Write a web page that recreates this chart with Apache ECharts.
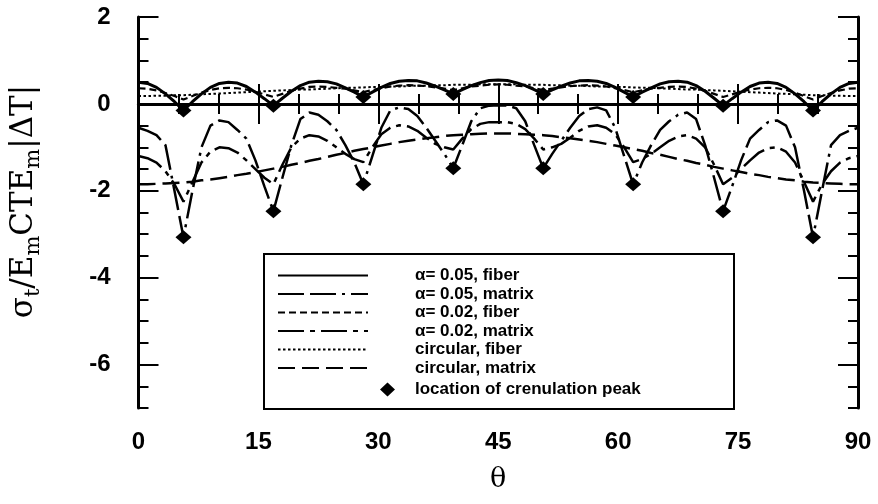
<!DOCTYPE html>
<html><head><meta charset="utf-8">
<script src="https://cdn.jsdelivr.net/npm/echarts@6/dist/echarts.min.js"></script>
<style>html,body{margin:0;padding:0;background:#fff}#c{width:878px;height:504px}</style>
</head><body><div id="c"></div>
<script>
// theta (degrees)
const theta = [0,1.125,2.25,3.375,4.5,5.625,6.75,7.875,9,10.125,
 11.25,12.375,13.5,14.625,15.75,16.875,18,19.125,20.25,21.375,
 22.5,23.625,24.75,25.875,27,28.125,29.25,30.375,31.5,32.625,
 33.75,34.875,36,37.125,38.25,39.375,40.5,41.625,42.75,43.875,
 45,46.125,47.25,48.375,49.5,50.625,51.75,52.875,54,55.125,
 56.25,57.375,58.5,59.625,60.75,61.875,63,64.125,65.25,66.375,
 67.5,68.625,69.75,70.875,72,73.125,74.25,75.375,76.5,77.625,
 78.75,79.875,81,82.125,83.25,84.375,85.5,86.625,87.75,88.875,90];
// alpha = 0.05, fiber
const fiber05 = [0.50,0.47,0.38,0.23,0.05,-0.15,0.05,0.23,0.38,0.47,
 0.50,0.48,0.40,0.27,0.12,-0.04,0.13,0.29,0.42,0.50,
 0.52,0.51,0.46,0.37,0.27,0.16,0.27,0.38,0.47,0.52,
 0.54,0.53,0.48,0.41,0.32,0.23,0.33,0.42,0.49,0.54,
 0.55,0.54,0.49,0.42,0.33,0.23,0.32,0.41,0.48,0.53,
 0.54,0.52,0.47,0.38,0.27,0.16,0.27,0.37,0.46,0.51,
 0.52,0.50,0.42,0.29,0.13,-0.04,0.12,0.27,0.40,0.48,
 0.50,0.47,0.38,0.23,0.05,-0.15,0.05,0.23,0.38,0.47,0.50];
// alpha = 0.05, matrix
const matrix05 = [-0.55,-0.62,-0.72,-0.95,-2.0,-3.07,-2.0,-1.0,-0.5,-0.38,
 -0.42,-0.6,-0.8,-1.3,-1.9,-2.47,-1.7,-0.95,-0.35,-0.2,
 -0.25,-0.4,-0.6,-0.95,-1.35,-1.85,-1.2,-0.55,-0.15,-0.08,
 -0.12,-0.28,-0.55,-0.85,-1.15,-1.48,-0.95,-0.4,-0.1,-0.04,
 -0.03,-0.04,-0.1,-0.4,-0.95,-1.48,-1.15,-0.85,-0.55,-0.28,
 -0.12,-0.08,-0.15,-0.55,-1.2,-1.85,-1.35,-0.95,-0.6,-0.4,
 -0.25,-0.2,-0.35,-0.95,-1.7,-2.47,-1.9,-1.3,-0.8,-0.6,
 -0.42,-0.38,-0.5,-1.0,-2.0,-3.07,-2.0,-0.95,-0.72,-0.62,-0.55];
// alpha = 0.02, fiber
const fiber02 = [0.36,0.35,0.31,0.25,0.18,0.10,0.18,0.26,0.32,0.36,
 0.37,0.36,0.33,0.28,0.22,0.16,0.23,0.30,0.35,0.39,
 0.40,0.39,0.37,0.35,0.31,0.27,0.32,0.36,0.40,0.42,
 0.43,0.42,0.41,0.38,0.35,0.32,0.36,0.40,0.42,0.44,
 0.45,0.44,0.42,0.40,0.36,0.32,0.35,0.38,0.41,0.42,
 0.43,0.42,0.40,0.36,0.32,0.27,0.31,0.35,0.37,0.39,
 0.40,0.39,0.35,0.30,0.23,0.16,0.22,0.28,0.33,0.36,
 0.37,0.36,0.32,0.26,0.18,0.10,0.18,0.25,0.31,0.35,0.36];
// alpha = 0.02, matrix
const matrix02 = [-1.2,-1.25,-1.35,-1.55,-1.85,-2.25,-1.8,-1.35,-1.1,-1.0,
 -1.02,-1.12,-1.3,-1.5,-1.7,-1.85,-1.4,-1.0,-0.8,-0.72,
 -0.75,-0.85,-1.0,-1.15,-1.27,-1.34,-1.0,-0.7,-0.55,-0.49,
 -0.52,-0.62,-0.78,-0.92,-1.0,-1.05,-0.8,-0.58,-0.46,-0.42,
 -0.42,-0.42,-0.46,-0.58,-0.8,-1.05,-1.0,-0.92,-0.78,-0.62,
 -0.52,-0.49,-0.55,-0.7,-1.0,-1.34,-1.27,-1.15,-1.0,-0.85,
 -0.75,-0.72,-0.8,-1.0,-1.4,-1.85,-1.7,-1.5,-1.3,-1.12,
 -1.02,-1.0,-1.1,-1.35,-1.8,-2.25,-1.85,-1.55,-1.35,-1.25,-1.2];
// circular, fiber
const fiberCirc = [0.18,0.18,0.19,0.19,0.20,0.20,0.21,0.22,0.23,0.24,
 0.25,0.26,0.27,0.28,0.29,0.30,0.31,0.32,0.33,0.33,
 0.34,0.35,0.36,0.37,0.37,0.38,0.39,0.39,0.40,0.40,
 0.41,0.42,0.42,0.43,0.43,0.44,0.44,0.44,0.45,0.45,
 0.45,0.45,0.45,0.44,0.44,0.44,0.43,0.43,0.42,0.42,
 0.41,0.40,0.40,0.39,0.39,0.38,0.37,0.37,0.36,0.35,
 0.34,0.33,0.33,0.32,0.31,0.30,0.29,0.28,0.27,0.26,
 0.25,0.24,0.23,0.22,0.21,0.20,0.20,0.19,0.19,0.18,0.18];
// circular, matrix
const matrixCirc = [-1.85,-1.85,-1.84,-1.83,-1.82,-1.81,-1.79,-1.76,-1.74,-1.71,
 -1.68,-1.64,-1.61,-1.57,-1.53,-1.49,-1.45,-1.40,-1.36,-1.31,
 -1.27,-1.22,-1.17,-1.13,-1.08,-1.04,-1.00,-0.96,-0.92,-0.88,
 -0.85,-0.82,-0.79,-0.77,-0.74,-0.72,-0.71,-0.70,-0.69,-0.68,
 -0.68,-0.68,-0.69,-0.70,-0.71,-0.72,-0.74,-0.77,-0.79,-0.82,
 -0.85,-0.88,-0.92,-0.96,-1.00,-1.04,-1.08,-1.13,-1.17,-1.22,
 -1.27,-1.31,-1.36,-1.40,-1.45,-1.49,-1.53,-1.57,-1.61,-1.64,
 -1.68,-1.71,-1.74,-1.76,-1.79,-1.81,-1.82,-1.83,-1.84,-1.85,-1.85];
// crenulation peak locations
const peakTheta = [5.625,16.875,28.125,39.375,50.625,61.875,73.125,84.375];
const peakFiber = [-0.15,-0.04,0.16,0.23,0.23,0.16,-0.04,-0.15];
const peakMatrix = [-3.07,-2.47,-1.85,-1.48,-1.48,-1.85,-2.47,-3.07];
const xTicks = [0,15,30,45,60,75,90];
const yTicks = [-6,-4,-2,0,2];
const names = ['α= 0.05, fiber','α= 0.05, matrix','α= 0.02, fiber','α= 0.02, matrix','circular, fiber','circular, matrix'];
const peakName = 'location of crenulation peak';

const pair = arr => theta.map((t,i)=>[t,arr[i]]);
const peakData = peakTheta.map((t,i)=>[t,peakFiber[i]]).concat(peakTheta.map((t,i)=>[t,peakMatrix[i]]));

const K = '#000';
const lineSeries = (name, arr, width, type, z) => ({
  name, type:'line', data: pair(arr), symbol:'none', z: z||2,
  lineStyle:{color:K, width, type}, itemStyle:{color:K}, animation:false
});

const labelFont = {fontFamily:'Liberation Sans', fontWeight:'bold', fontSize:24, color:K};
const xBase = {type:'value', min:0, max:90, interval:15, splitLine:{show:false},
  axisLine:{show:true, lineStyle:{color:K, width:3}},
  axisTick:{show:true, inside:true, length:20, lineStyle:{color:K, width:2}},
  minorTick:{show:true, splitNumber:3, length:10, lineStyle:{color:K, width:2}}};
const yMinor = {type:'value', min:-7, max:2, interval:0.5, splitLine:{show:false},
  axisLine:{show:true, lineStyle:{color:K, width:3}},
  axisTick:{show:true, inside:true, length:10, lineStyle:{color:K, width:2}}};
const yMajor = {type:'value', min:-7, max:2, splitLine:{show:false}, axisLine:{show:false},
  axisLabel:{show:false},
  axisTick:{show:true, inside:true, length:20, customValues: yTicks, lineStyle:{color:K, width:2}}};

const chart = echarts.init(document.getElementById('c'), null, {renderer:'canvas'});
chart.setOption({
  backgroundColor:'#fff',
  animation:false,
  grid:{left:137, right:20, top:17, bottom:96, containLabel:false},
  xAxis:[
    Object.assign({}, xBase, {position:'bottom',
      axisLabel:Object.assign({margin:22, customValues:xTicks}, labelFont),
      name:'θ', nameLocation:'middle', nameGap:58,
      nameTextStyle:{fontFamily:'DejaVu Serif', fontSize:27, color:K}}),
    Object.assign({}, xBase, {position:'top', axisLabel:{show:false}})
  ],
  yAxis:[
    Object.assign({}, yMinor, {position:'left',
      axisLabel:Object.assign({margin:28, formatter: v => (Math.abs(v % 2) < 1e-9 ? String(v) : '')}, labelFont),
      name:'{a|σ}{b|t}{a|/E}{b|m}{a|CTE}{b|m}{a||ΔT|}', nameLocation:'middle', nameGap:94,
      nameTextStyle:{padding:[0,0,0,22], rich:{
        a:{fontFamily:'DejaVu Serif', fontSize:31, color:K, lineHeight:42, verticalAlign:'middle'},
        b:{fontFamily:'DejaVu Serif', fontSize:21, color:K, lineHeight:42, verticalAlign:'bottom'}}}}),
    Object.assign({}, yMajor, {position:'left'}),
    Object.assign({}, yMinor, {position:'right', axisLabel:{show:false}}),
    Object.assign({}, yMajor, {position:'right'})
  ],
  legend:[
    {data:names, orient:'vertical', left:277, top:267, padding:0, itemWidth:90, itemHeight:12, itemGap:1.5,
      itemStyle:{opacity:0},
      textStyle:{fontFamily:'Liberation Sans', fontWeight:'bold', fontSize:17, color:K, padding:[0,0,0,42]},
      selectedMode:false, z:10},
    {data:[peakName], orient:'vertical', left:380, top:381, padding:0, itemWidth:15, itemHeight:14,
      itemStyle:{opacity:1, color:K},
      textStyle:{fontFamily:'Liberation Sans', fontWeight:'bold', fontSize:17, color:K, padding:[0,0,0,15]},
      selectedMode:false, z:10}
  ],
  graphic:[{type:'rect', left:263, top:253, z:5,
    shape:{width:470, height:155}, style:{fill:'#fff', stroke:K, lineWidth:2}}],
  series:[
    Object.assign(lineSeries(names[0], fiber05, 3, 'solid', 4), {
      markLine:{silent:true, symbol:'none', label:{show:false},
        lineStyle:{color:K, width:3, type:'solid'}, data:[{yAxis:0}]}}),
    lineSeries(names[1], matrix05, 2.5, [26,6,26,6,3,6]),
    lineSeries(names[2], fiber02, 2.2, [7,4]),
    lineSeries(names[3], matrix02, 2.5, [26,6,5,6]),
    lineSeries(names[4], fiberCirc, 2, [2.5,2.5]),
    lineSeries(names[5], matrixCirc, 2.5, [17,7]),
    {name:peakName, type:'scatter', data:peakData, symbol:'diamond', symbolSize:[16,14],
      itemStyle:{color:K, opacity:1}, z:6, animation:false}
  ]
});
</script></body></html>
